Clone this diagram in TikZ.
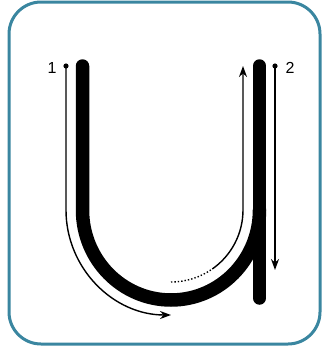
\documentclass[tikz,border=0pt]{standalone}
\usepackage{fontspec}
\setmainfont{Liberation Sans}
\usetikzlibrary{arrows.meta}
\definecolor{frameteal}{RGB}{58,134,160}
\begin{document}
\begin{tikzpicture}[x=1pt,y=-1pt,
  frame/.style={draw=frameteal,line width=3pt,rounded corners=32pt},
  thick stroke/.style={line width=13.5pt,line cap=round},
  guide/.style={line width=1.4pt},
  tip/.style={-{Stealth[length=11pt,width=8pt]}},
  lbl/.style={font=\fontsize{16}{16}\selectfont,inner sep=0pt}]
\useasboundingbox (0,0) rectangle (322,356);
\draw[frame] (9,2) rectangle (320,344);
% letter strokes
\coordinate (ltop) at (82.5,66);
\coordinate (rtop) at (259.5,66);
\coordinate (rbot) at (259.5,298);
\draw[thick stroke] (ltop) -- (82.5,210) arc[start angle=180,end angle=0,x radius=88.5,y radius=90];
\draw[thick stroke] (rtop) -- (rbot);
% guide 1
\node[lbl] (n1) at (52,68) {1};
\coordinate (s1) at (66,66);
\fill (s1) circle (2.6pt);
\draw[guide,tip] (s1) -- (66,210) arc[start angle=180,end angle=90,radius=105];
% dotted then solid up
\path (171,210) ++(55:72) coordinate (d2);
\draw[guide,dotted] (171,282) arc[start angle=90,end angle=55,radius=72];
\draw[guide,tip] (d2) arc[start angle=55,end angle=0,radius=72] -- (243,66);
% guide 2
\node[lbl] (n2) at (290,68) {2};
\coordinate (s2) at (275,66);
\coordinate (e2) at (275,270);
\fill (s2) circle (2.6pt);
\draw[guide,tip] (s2) -- (e2);
\end{tikzpicture}
\end{document}
